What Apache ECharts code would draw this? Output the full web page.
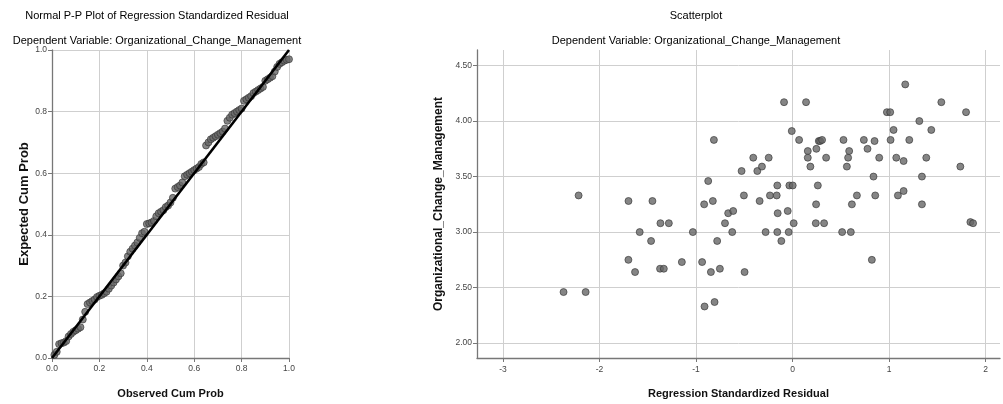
<!DOCTYPE html>
<html>
<head>
<meta charset="utf-8">
<title>Regression residual plots</title>
<script src="https://cdn.jsdelivr.net/npm/echarts@6/dist/echarts.min.js"></script>
<style>
    body { margin: 0; background: #ffffff; }
    #chart { width: 1003px; height: 404px; }
</style>
</head>
<body>
<div id="chart"></div>
<script>
// =============================== //
//
// Render P-P plot and residual scatterplot
//
// =============================== //

// Fonts
const plainFont = "'Liberation Sans', Arial, sans-serif";

// Titles
const ppTitle = "Normal P-P Plot of Regression Standardized Residual";
const scatterTitle = "Scatterplot";
const depVarTitle = "Dependent Variable: Organizational_Change_Management";

// P-P plot: observed cum prob vs expected cum prob
const ppObserved = [
    0.01, 0.02, 0.03, 0.04, 0.05, 0.06, 0.07, 0.08, 0.09, 0.10,
    0.11, 0.12, 0.13, 0.14, 0.15, 0.16, 0.17, 0.18, 0.19, 0.20,
    0.21, 0.22, 0.23, 0.24, 0.25, 0.26, 0.27, 0.28, 0.29, 0.30,
    0.31, 0.32, 0.33, 0.34, 0.35, 0.36, 0.37, 0.38, 0.39, 0.40,
    0.41, 0.42, 0.43, 0.44, 0.45, 0.46, 0.47, 0.48, 0.49, 0.50,
    0.51, 0.52, 0.53, 0.54, 0.55, 0.56, 0.57, 0.58, 0.59, 0.60,
    0.61, 0.62, 0.63, 0.64, 0.65, 0.66, 0.67, 0.68, 0.69, 0.70,
    0.71, 0.72, 0.73, 0.74, 0.75, 0.76, 0.77, 0.78, 0.79, 0.80,
    0.81, 0.82, 0.83, 0.84, 0.85, 0.86, 0.87, 0.88, 0.89, 0.90,
    0.91, 0.92, 0.93, 0.94, 0.95, 0.96, 0.97, 0.98, 0.99, 1.00
];
const ppExpected = [
    0.010, 0.020, 0.045, 0.048, 0.050, 0.055, 0.070, 0.078, 0.085, 0.090,
    0.095, 0.100, 0.125, 0.150, 0.175, 0.180, 0.185, 0.190, 0.198, 0.202,
    0.205, 0.210, 0.215, 0.225, 0.235, 0.245, 0.255, 0.265, 0.275, 0.300,
    0.310, 0.330, 0.345, 0.355, 0.365, 0.375, 0.390, 0.405, 0.410, 0.435,
    0.437, 0.440, 0.445, 0.460, 0.470, 0.475, 0.480, 0.490, 0.495, 0.505,
    0.520, 0.550, 0.555, 0.560, 0.570, 0.590, 0.595, 0.600, 0.605, 0.610,
    0.615, 0.620, 0.630, 0.635, 0.690, 0.700, 0.710, 0.715, 0.720, 0.725,
    0.730, 0.735, 0.745, 0.770, 0.780, 0.790, 0.795, 0.800, 0.805, 0.810,
    0.835, 0.840, 0.845, 0.850, 0.860, 0.865, 0.870, 0.875, 0.880, 0.900,
    0.905, 0.910, 0.915, 0.930, 0.945, 0.955, 0.960, 0.965, 0.968, 0.970
];

// Diagonal reference line of the P-P plot
const ppLineX = [0, 1];
const ppLineY = [0, 1];

// Scatterplot: standardized residual (x) vs Organizational_Change_Management (y)
const residuals = [
    -2.373, -2.144, -2.217, -1.700, -1.452, -1.701, -1.632, -1.584, -1.466, -1.369,
    -1.282, -1.373, -1.334, -1.147, -1.033, -0.937, -0.916, -0.912, -0.874, -0.846,
    -0.826, -0.815, -0.808, -0.781, -0.753, -0.700, -0.667, -0.625, -0.615, -0.528,
    -0.504, -0.497, -0.407, -0.365, -0.341, -0.317, -0.279, -0.247, -0.234, -0.164,
    -0.158, -0.158, -0.154, -0.116, -0.088, -0.050, -0.040, -0.033, -0.008, 0.002,
    0.012, 0.068, 0.140, 0.158, 0.158, 0.185, 0.241, 0.244, 0.247, 0.262,
    0.272, 0.286, 0.306, 0.327, 0.348, 0.514, 0.528, 0.563, 0.576, 0.587,
    0.604, 0.615, 0.667, 0.739, 0.777, 0.822, 0.839, 0.850, 0.857, 0.898,
    0.978, 1.012, 1.016, 1.047, 1.075, 1.092, 1.151, 1.151, 1.168, 1.210,
    1.314, 1.341, 1.341, 1.386, 1.438, 1.542, 1.739, 1.798, 1.843, 1.871
];
const changeMgmt = [
    2.46, 2.46, 3.33, 3.28, 3.28, 2.75, 2.64, 3.00, 2.92, 3.08,
    3.08, 2.67, 2.67, 2.73, 3.00, 2.73, 3.25, 2.33, 3.46, 2.64,
    3.28, 3.83, 2.37, 2.92, 2.67, 3.08, 3.17, 3.00, 3.19, 3.55,
    3.33, 2.64, 3.67, 3.55, 3.28, 3.59, 3.00, 3.67, 3.33, 3.33,
    3.42, 3.00, 3.17, 2.92, 4.17, 3.19, 3.00, 3.42, 3.91, 3.42,
    3.08, 3.83, 4.17, 3.73, 3.67, 3.59, 3.08, 3.25, 3.75, 3.42,
    3.82, 3.82, 3.83, 3.08, 3.67, 3.00, 3.83, 3.59, 3.67, 3.73,
    3.00, 3.25, 3.33, 3.83, 3.75, 2.75, 3.50, 3.82, 3.33, 3.67,
    4.08, 4.08, 3.83, 3.92, 3.67, 3.33, 3.64, 3.37, 4.33, 3.83,
    4.00, 3.50, 3.25, 3.67, 3.92, 4.17, 3.59, 4.08, 3.09, 3.08
];

// Tick labels
const residualTicks = [-3, -2, -1, 0, 1, 2];
const changeTicks = [2.0, 2.5, 3.0, 3.5, 4.0, 4.5];

// Pair arrays into [x, y] points
function zipPoints(xs, ys) {
    return xs.map((x, i) => [x, ys[i]]);
};

// Shared styles
const gridLine = { show: true, lineStyle: { color: "#cfcfcf", width: 1 } };
const axisLine = { show: true, onZero: false, lineStyle: { color: "#777777", width: 1.3 } };
const axisTick = { show: true, length: 4, lineStyle: { color: "#777777" } };
const tickLabel = { color: "#444444", fontFamily: plainFont, fontSize: 8.5 };
const pointStyle = { color: "#666666", borderColor: "#333333", borderWidth: 0.8 };
const titleStyle = { fontFamily: plainFont, fontSize: 11, fontWeight: "normal", color: "#000" };
const xNameStyle = { fontFamily: plainFont, fontSize: 11, fontWeight: "bold", color: "#111" };

const chartElement = document.getElementById("chart");
const chart = echarts.init(chartElement, null, { renderer: "canvas" });

let option = {
    backgroundColor: "#ffffff",
    animation: false,

    // TITLES
    title: [
        { text: ppTitle, left: 152, top: 5, textAlign: "center", textStyle: titleStyle },
        { text: depVarTitle, left: 152, top: 30, textAlign: "center", textStyle: titleStyle },
        { text: scatterTitle, left: 691, top: 5, textAlign: "center", textStyle: titleStyle },
        { text: depVarTitle, left: 691, top: 30, textAlign: "center", textStyle: titleStyle }
    ],

    // GRIDS
    grid: [
        { left: 52, top: 50, width: 237, height: 311 },
        { left: 477, top: 50, width: 523, height: 310 }
    ],

    // XAXES
    xAxis: [
        {
            gridIndex: 0, type: "value", min: 0, max: 1, interval: 0.2,
            name: "Observed Cum Prob", nameLocation: "middle", nameGap: 30,
            nameTextStyle: xNameStyle,
            axisLine: axisLine, axisTick: axisTick, splitLine: gridLine,
            axisLabel: { ...tickLabel, margin: 6, formatter: v => v.toFixed(1) }
        },
        {
            gridIndex: 1, type: "value", min: -3.27, max: 2.15,
            name: "Regression Standardized Residual", nameLocation: "middle", nameGap: 30,
            nameTextStyle: xNameStyle,
            axisLine: axisLine,
            axisTick: { ...axisTick, customValues: residualTicks },
            splitLine: gridLine,
            axisLabel: { ...tickLabel, margin: 7, customValues: residualTicks,
                         formatter: v => String(v) }
        }
    ],

    // YAXES
    yAxis: [
        {
            gridIndex: 0, type: "value", min: 0, max: 1, interval: 0.2,
            name: "Expected Cum Prob", nameLocation: "middle", nameGap: 17,
            nameTextStyle: { fontFamily: plainFont, fontSize: 13, fontWeight: "bold", color: "#111" },
            axisLine: axisLine, axisTick: axisTick, splitLine: gridLine,
            axisLabel: { ...tickLabel, margin: 5, formatter: v => v.toFixed(1) }
        },
        {
            gridIndex: 1, type: "value", min: 1.866, max: 4.64,
            name: "Organizational_Change_Management", nameLocation: "middle", nameGap: 24,
            nameTextStyle: { fontFamily: plainFont, fontSize: 12, fontWeight: "bold", color: "#111" },
            axisLine: axisLine,
            axisTick: { ...axisTick, customValues: changeTicks },
            splitLine: gridLine,
            axisLabel: { ...tickLabel, margin: 5, customValues: changeTicks,
                         formatter: v => v.toFixed(2) }
        }
    ],

    // SERIES
    series: [
        {
            name: "P-P points", type: "scatter", xAxisIndex: 0, yAxisIndex: 0,
            symbolSize: 7, itemStyle: pointStyle,
            data: zipPoints(ppObserved, ppExpected)
        },
        {
            name: "Reference", type: "line", xAxisIndex: 0, yAxisIndex: 0,
            symbol: "none", lineStyle: { color: "#000000", width: 2.6 },
            data: zipPoints(ppLineX, ppLineY)
        },
        {
            name: "Residuals", type: "scatter", xAxisIndex: 1, yAxisIndex: 1,
            symbolSize: 7, itemStyle: pointStyle,
            data: zipPoints(residuals, changeMgmt)
        }
    ]
};

chart.setOption(option);
</script>
</body>
</html>
